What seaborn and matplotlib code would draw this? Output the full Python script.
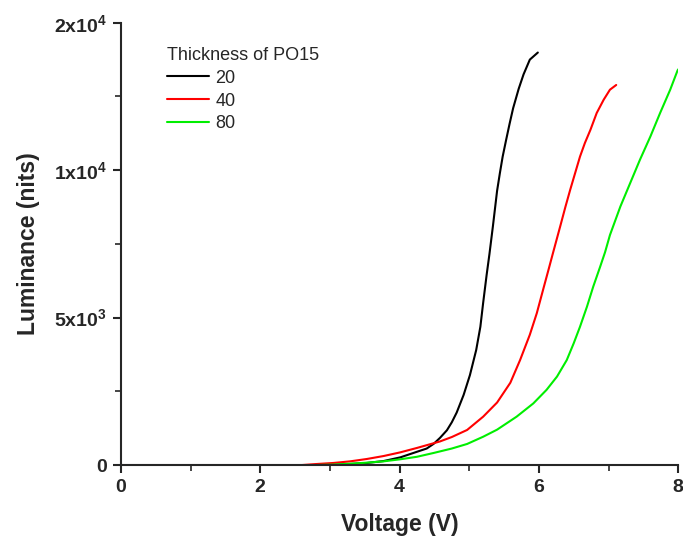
import numpy as np
import pandas as pd
import matplotlib
matplotlib.use("Agg")
import matplotlib.pyplot as plt
import seaborn as sns
from matplotlib.ticker import FixedLocator, MultipleLocator

# Luminance-voltage data for three PO15 thicknesses
v_20 = [0.0, 1.0, 2.0, 2.8, 3.05, 3.29, 3.53, 3.77, 4.01, 4.25, 4.39, 4.49, 4.58, 4.68,
        4.75, 4.82, 4.92, 5.01, 5.10, 5.16, 5.20, 5.25, 5.29, 5.31, 5.34, 5.37, 5.40,
        5.44, 5.48, 5.53, 5.58, 5.63, 5.71, 5.78, 5.87, 5.985]
l_20 = [0, 0, 0, 0, 10, 35, 70, 135, 260, 450, 560, 720, 920, 1180,
        1450, 1780, 2380, 3050, 3900, 4690, 5500, 6450, 7150, 7530, 8100, 8700, 9300,
        9900, 10460, 11030, 11580, 12100, 12760, 13250, 13750, 13990]

v_40 = [0.0, 1.0, 2.0, 2.6, 2.81, 3.05, 3.29, 3.53, 3.77, 4.01, 4.25, 4.49, 4.58, 4.75,
        4.97, 5.20, 5.40, 5.59, 5.73, 5.87, 5.97, 6.07, 6.14, 6.20, 6.31, 6.38,
        6.45, 6.52, 6.59, 6.66, 6.74, 6.83, 6.93, 7.02, 7.11]
l_40 = [0, 0, 0, 0, 35, 70, 125, 205, 305, 430, 580, 740, 800, 950,
        1190, 1640, 2120, 2790, 3560, 4420, 5150, 6030, 6640, 7170, 8130, 8750,
        9340, 9900, 10460, 10920, 11370, 11940, 12390, 12730, 12890]

v_80 = [0.0, 1.0, 2.0, 2.8, 3.05, 3.29, 3.53, 3.77, 4.01, 4.25, 4.49, 4.75, 4.97, 5.20,
        5.40, 5.68, 5.92, 6.11, 6.26, 6.40, 6.50, 6.59, 6.69, 6.78, 6.88, 6.95, 7.02,
        7.17, 7.31, 7.45, 7.60, 7.74, 7.885, 7.99, 8.0]
l_80 = [0, 0, 0, 0, 15, 45, 80, 125, 195, 280, 410, 560, 715, 960,
        1200, 1640, 2090, 2550, 3000, 3560, 4130, 4690, 5370, 6050, 6730, 7220, 7800,
        8770, 9560, 10350, 11140, 11940, 12730, 13380, 13420]

thickness_labels = ["20", "40", "80"]
line_colors = ["#000000", "#ff0000", "#00ee00"]

frames = []
for lab, v, l in zip(thickness_labels, [v_20, v_40, v_80], [l_20, l_40, l_80]):
    frames.append(pd.DataFrame({"Voltage": v, "Luminance": l, "Thickness": lab}))
df = pd.concat(frames, ignore_index=True)

sns.set_style("ticks")
plt.rcParams["font.family"] = ["Liberation Sans", "DejaVu Sans"]
plt.rcParams["mathtext.fontset"] = "custom"
plt.rcParams["mathtext.rm"] = "Liberation Sans"
plt.rcParams["mathtext.bf"] = "Liberation Sans:bold"

fig = plt.figure(figsize=(6.83, 5.42), dpi=100)
ax = fig.add_axes([0.177, 0.142, 0.816, 0.816])

sns.lineplot(data=df, x="Voltage", y="Luminance", hue="Thickness",
             hue_order=thickness_labels, palette=line_colors, linewidth=1.5,
             sort=False, estimator=None, ax=ax)

ax.set_xlim(0, 8)
ax.set_ylim(0, 15000)
sns.despine(ax=ax)
for side in ("left", "bottom"):
    ax.spines[side].set_linewidth(1.5)

ax.xaxis.set_major_locator(FixedLocator([0, 2, 4, 6, 8]))
ax.xaxis.set_minor_locator(MultipleLocator(1))
ax.yaxis.set_major_locator(FixedLocator([0, 5000, 10000, 15000]))
ax.yaxis.set_minor_locator(FixedLocator([2500, 7500, 12500]))
ax.set_yticklabels(["0", r"$\mathbf{5x10^{3}}$", r"$\mathbf{1x10^{4}}$", r"$\mathbf{2x10^{4}}$"])
ax.tick_params(which="major", direction="out", length=6, width=1.5,
               labelsize=14, pad=4)
ax.tick_params(which="minor", direction="out", length=4, width=1.2)
for t in ax.get_xticklabels() + ax.get_yticklabels():
    t.set_fontweight("bold")

ax.set_xlabel("Voltage (V)", fontsize=16.5, fontweight="bold", labelpad=12)
ax.set_ylabel("Luminance (nits)", fontsize=16.5, fontweight="bold", labelpad=10)

leg = ax.legend(title="Thickness of PO15", loc="upper left",
                bbox_to_anchor=(0.245, 0.914), bbox_transform=fig.transFigure,
                frameon=False, fontsize=13, title_fontsize=13,
                handlelength=2.3, handletextpad=0.35, labelspacing=0.33,
                borderpad=0, borderaxespad=0)
leg._legend_box.align = "left"

fig.savefig("out.png", dpi=100)
